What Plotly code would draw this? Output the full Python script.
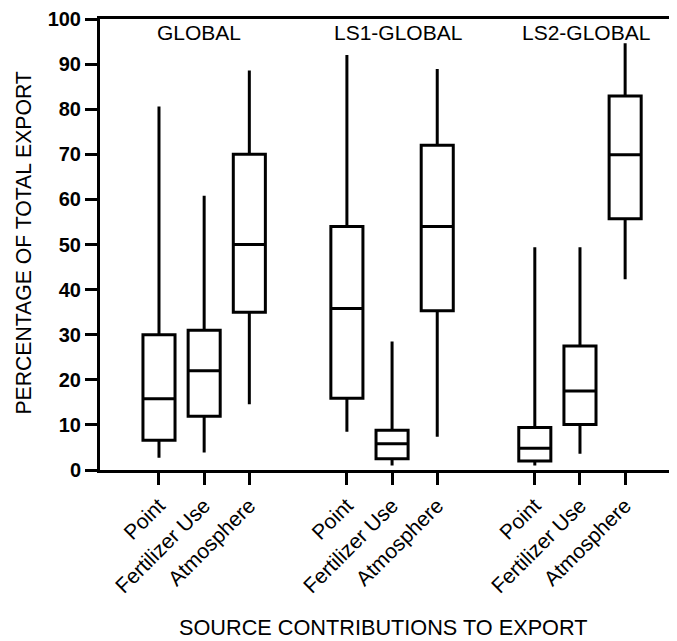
import plotly.graph_objects as go

groups = ["GLOBAL", "LS1-GLOBAL", "LS2-GLOBAL"]
sources = ["Point", "Fertilizer Use", "Atmosphere"]

# box statistics per group, in order Point, Fertilizer Use, Atmosphere
lower = {"GLOBAL": [2.7, 3.9, 14.6], "LS1-GLOBAL": [8.5, 1.0, 7.4], "LS2-GLOBAL": [1.0, 3.6, 42.3]}
q1 = {"GLOBAL": [6.6, 11.9, 35.0], "LS1-GLOBAL": [15.9, 2.5, 35.3], "LS2-GLOBAL": [2.0, 10.1, 55.7]}
median = {"GLOBAL": [15.8, 22.0, 50.0], "LS1-GLOBAL": [35.8, 5.8, 54.0], "LS2-GLOBAL": [4.8, 17.5, 69.9]}
q3 = {"GLOBAL": [30.0, 31.0, 70.0], "LS1-GLOBAL": [54.0, 8.8, 72.0], "LS2-GLOBAL": [9.4, 27.5, 82.9]}
upper = {"GLOBAL": [80.6, 60.8, 88.6], "LS1-GLOBAL": [92.0, 28.5, 88.9], "LS2-GLOBAL": [49.4, 49.4, 94.6]}

GROUP_GAP = 4.16
xs, L, Q1, MED, Q3, U, labels = [], [], [], [], [], [], []
for g, grp in enumerate(groups):
    for i, src in enumerate(sources):
        xs.append(g * GROUP_GAP + i)
        labels.append(src)
        L.append(lower[grp][i]); Q1.append(q1[grp][i]); MED.append(median[grp][i])
        Q3.append(q3[grp][i]); U.append(upper[grp][i])

FONT = "Arial, Liberation Sans, sans-serif"

fig = go.Figure()
fig.add_trace(go.Box(
    x=xs, q1=Q1, median=MED, q3=Q3, lowerfence=L, upperfence=U,
    width=0.71, whiskerwidth=0, fillcolor="white",
    line=dict(color="black", width=3), boxpoints=False, showlegend=False,
    hoverinfo="skip",
))

# page body has an 8px margin, so the figure is sized/offset to compensate
fig.update_layout(
    width=669, height=633,
    margin=dict(l=92, r=0, t=9, b=171),
    paper_bgcolor="white", plot_bgcolor="white",
    font=dict(family=FONT, color="black"),
    xaxis=dict(
        range=[-1.306, 11.468], tickmode="array", tickvals=xs, ticktext=labels,
        tickangle=-45, ticks="outside", ticklen=12, tickwidth=3, tickcolor="black",
        tickfont=dict(size=21, family=FONT, color="black"),
        showline=True, linewidth=3, linecolor="black", mirror=True,
        showgrid=False, zeroline=False,
    ),
    yaxis=dict(
        range=[0, 100], tickmode="linear", tick0=0, dtick=10,
        ticks="outside", ticklen=12, tickwidth=3, tickcolor="black",
        tickfont=dict(size=20, family=FONT, color="black", weight="bold"),
        ticklabeloverflow="allow",
        showline=True, linewidth=3, linecolor="black",
        showgrid=False, zeroline=False,
    ),
)

# group labels
group_label_x = [0.886, 5.3, 9.45]
for gx, grp in zip(group_label_x, groups):
    fig.add_annotation(x=gx, y=96.9, xref="x", yref="y", text=grp, showarrow=False,
                       font=dict(size=21, family=FONT, color="black"),
                       xanchor="center", yanchor="middle")

fig.add_annotation(x=(24 - 100) / 577, y=0.502, xref="paper", yref="paper",
                   text="PERCENTAGE OF TOTAL EXPORT", textangle=-90, showarrow=False,
                   font=dict(size=21.2, family=FONT, color="black"),
                   xanchor="center", yanchor="middle")
fig.add_annotation(x=(383 - 100) / 577, y=-0.3488, xref="paper", yref="paper",
                   text="SOURCE CONTRIBUTIONS TO EXPORT", showarrow=False,
                   font=dict(size=21.7, family=FONT, color="black"),
                   xanchor="center", yanchor="middle")

fig.write_html("out.html")
